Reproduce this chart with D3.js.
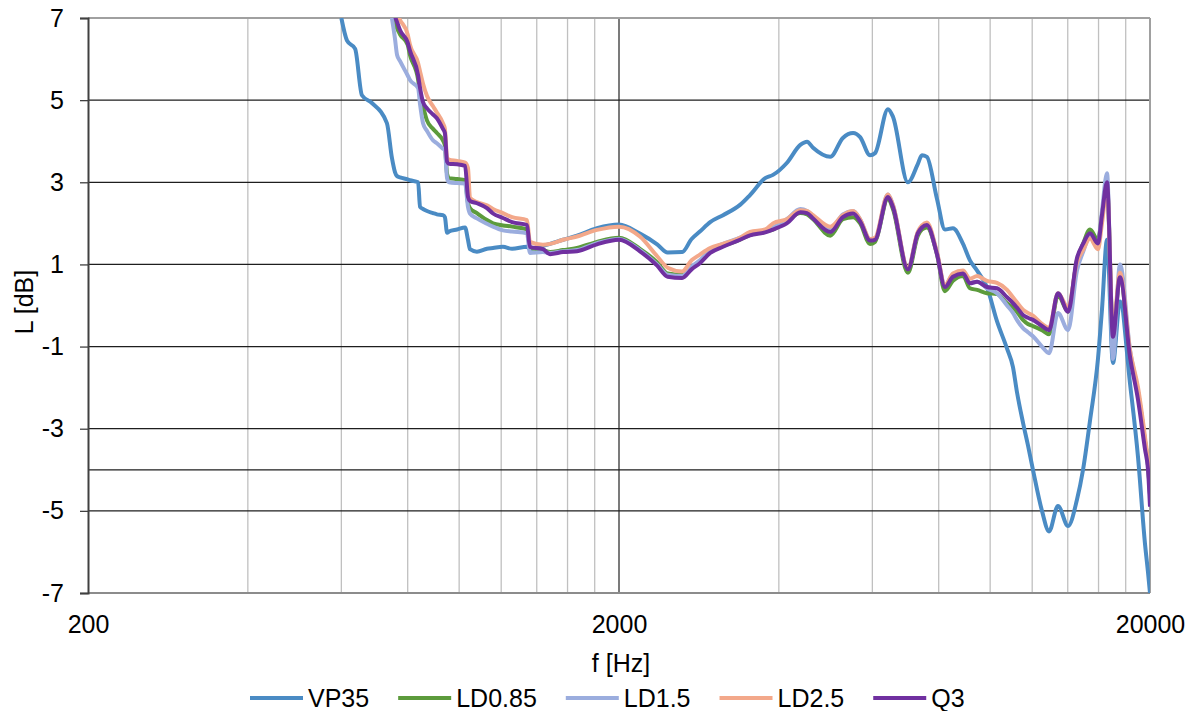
<!DOCTYPE html>
<html>
<head>
<meta charset="utf-8">
<script src="https://cdn.jsdelivr.net/npm/d3@7"></script>
<style>
  body { margin: 0; background: #fff; }
  svg { display: block; }
  text { font-family: "Liberation Sans", Arial, sans-serif; fill: #000; }
</style>
</head>
<body>
<svg id="chart" width="1203" height="711"></svg>
<script>
// Frequency points (Hz) shared by all curves
const freqHz = [
  600, 615, 637, 656, 685, 731, 747, 757, 764, 774,
  800, 808, 837, 844, 855, 870, 893, 908, 932, 940,
  949, 957, 991, 1026, 1039, 1048, 1080, 1128, 1158, 1209,
  1258, 1342, 1359, 1438, 1483, 1569, 1667, 1818, 2000, 2190,
  2360, 2470, 2630, 2740, 2840, 2970, 3140, 3380, 3530, 3770,
  3900, 4140, 4390, 4520, 4640, 5000, 5280, 5520, 5690, 5940,
  6070, 6420, 6560, 7000, 7310, 7440, 7600, 7940, 8220, 8510,
  8890, 9160, 9450, 9860, 10300, 10760, 11040, 11230, 11530, 11780,
  12040, 12520, 12910, 13420, 14020, 14570, 14960, 15420, 15960, 16240,
  16600, 17030, 17560, 18340, 18990, 19570, 19830, 20000
];

// Level (dB) of each configuration at those frequencies
const vp35 = [
  7.0, 6.45, 6.25, 5.12, 4.93, 4.44, 3.6, 3.25, 3.15, 3.12,
  3.07, 3.05, 3.0, 2.4, 2.35, 2.3, 2.25, 2.22, 2.2, 2.15,
  1.77, 1.8, 1.85, 1.9, 1.6, 1.37, 1.31, 1.38, 1.4, 1.43,
  1.38, 1.43, 1.38, 1.45, 1.5, 1.6, 1.7, 1.88, 1.97, 1.75,
  1.49, 1.29, 1.3, 1.62, 1.8, 2.03, 2.2, 2.45, 2.69, 3.1,
  3.18, 3.47, 3.91, 3.99, 3.84, 3.62, 4.08, 4.2, 4.1, 3.66,
  3.71, 4.78, 4.6, 3.0, 3.45, 3.66, 3.62, 2.6, 1.85, 1.88,
  1.5, 1.1, 0.85, 0.45, -0.38, -1.05, -1.5, -2.1, -2.85, -3.4,
  -4.0, -5.0, -5.5, -4.88, -5.37, -4.73, -4.0, -2.8, -1.3, -0.1,
  1.6, -1.4, 0.1, -1.9, -3.7, -5.8, -6.5, -7.0
];

const ld085 = [
  null, null, null, null, null, null, 7.2, 6.9, 6.75, 6.6,
  6.35, 6.1, 5.5, 5.15, 4.85, 4.5, 4.3, 4.2, 4.02, 3.9,
  3.2, 3.1, 3.08, 3.05, 2.5, 2.37, 2.25, 2.08, 2.0, 1.95,
  1.92, 1.85, 1.41, 1.35, 1.3, 1.35, 1.4, 1.55, 1.65, 1.38,
  1.05, 0.78, 0.75, 0.9, 1.08, 1.3, 1.45, 1.6, 1.72, 1.8,
  1.85, 2.05, 2.25, 2.22, 2.1, 1.7, 2.1, 2.15, 2.0, 1.5,
  1.55, 2.6, 2.35, 0.8, 1.7, 1.85, 1.9, 1.25, 0.35, 0.6,
  0.72, 0.42, 0.38, 0.3, 0.28, 0.05, -0.05, -0.15, -0.35, -0.45,
  -0.5, -0.6, -0.7, 0.25, -0.15, 1.1, 1.5, 1.85, 1.6, 2.2,
  2.9, -0.7, 0.7, -1.2, -2.1, -3.3, -3.9, -4.6
];

const ld15 = [
  null, null, null, null, null, null, 7.0, 6.5, 6.1, 5.95,
  5.6, 5.49, 5.29, 4.9, 4.44, 4.25, 4.02, 3.95, 3.82, 3.78,
  3.1, 3.0, 2.98, 2.97, 2.4, 2.24, 2.12, 1.99, 1.92, 1.83,
  1.8, 1.76, 1.28, 1.3, 1.28, 1.32, 1.35, 1.52, 1.62, 1.35,
  1.0, 0.75, 0.72, 0.95, 1.1, 1.35, 1.5, 1.65, 1.75, 1.83,
  1.9, 2.1, 2.35, 2.3, 2.18, 1.85, 2.22, 2.3, 2.1, 1.6,
  1.62, 2.7, 2.45, 0.9, 1.78, 1.92, 1.98, 1.28, 0.48, 0.75,
  0.8, 0.55, 0.58, 0.42, 0.3, 0.0, -0.18, -0.35, -0.55, -0.65,
  -0.75, -1.0, -1.16, -0.18, -0.6, 0.85, 1.3, 1.68, 1.49, 2.3,
  3.22, -1.3, 1.0, -1.08, -2.1, -3.3, -3.9, -4.6
];

const ld25 = [
  null, null, null, null, null, null, 8.0, 7.4, 7.1, 6.95,
  6.6, 6.35, 5.9, 5.7, 5.4, 5.1, 4.85, 4.7, 4.44, 4.3,
  3.6, 3.55, 3.52, 3.48, 3.35, 2.62, 2.52, 2.44, 2.35, 2.25,
  2.15, 2.08, 1.55, 1.48, 1.5, 1.6, 1.68, 1.84, 1.92, 1.68,
  1.2, 0.92, 0.83, 1.1, 1.24, 1.4, 1.5, 1.65, 1.79, 1.85,
  2.0, 2.1, 2.32, 2.3, 2.2, 1.92, 2.2, 2.3, 2.1, 1.62,
  1.65, 2.7, 2.45, 0.92, 1.8, 1.95, 2.02, 1.3, 0.5, 0.78,
  0.85, 0.65, 0.72, 0.6, 0.55, 0.38, 0.2, 0.08, -0.1, -0.18,
  -0.25, -0.45, -0.55, 0.3, -0.05, 1.05, 1.35, 1.63, 1.37, 2.0,
  2.85, -0.6, 0.8, -1.1, -2.0, -3.2, -3.8, -4.45
];

const q3 = [
  null, null, null, null, null, null, 7.5, 7.05, 6.9, 6.7,
  6.4, 6.2, 5.6, 5.3, 4.95, 4.8, 4.65, 4.56, 4.3, 4.2,
  3.5, 3.45, 3.44, 3.4, 2.65, 2.55, 2.49, 2.37, 2.24, 2.13,
  2.03, 1.96, 1.43, 1.37, 1.25, 1.3, 1.32, 1.49, 1.6, 1.32,
  0.97, 0.7, 0.67, 0.88, 1.03, 1.28, 1.43, 1.6, 1.71, 1.78,
  1.85, 2.0, 2.27, 2.25, 2.12, 1.79, 2.15, 2.24, 2.05, 1.58,
  1.6, 2.64, 2.4, 0.88, 1.76, 1.9, 1.96, 1.25, 0.45, 0.7,
  0.78, 0.54, 0.58, 0.45, 0.42, 0.2, 0.06, -0.05, -0.23, -0.3,
  -0.35, -0.5, -0.6, 0.3, -0.15, 1.15, 1.5, 1.76, 1.51, 2.2,
  3.0, -0.76, 0.69, -1.25, -2.3, -3.5, -4.0, -4.9
];

const seriesNames = ["VP35", "LD0.85", "LD1.5", "LD2.5", "Q3"];
const seriesValues = [vp35, ld085, ld15, ld25, q3];
const seriesColors = ["#4a8bc4", "#5c9b3c", "#9badde", "#f3a88a", "#7030a0"];

const yTicks = [7, 5, 3, 1, -1, -3, -5, -7];
const yExtraGrid = [-4];
const xTickLabels = [200, 2000, 20000];
const xMinorGrid = [400, 600, 800, 1000, 1200, 1400, 1600, 1800,
                    4000, 6000, 8000, 10000, 12000, 14000, 16000, 18000];

const svg = d3.select("#chart");
const plotL = 88, plotR = 1150, plotT = 18, plotB = 593;

const x = d3.scaleLog().domain([200, 20000]).range([plotL, plotR]);
const y = d3.scaleLinear().domain([-7, 7]).range([plotB, plotT]);

// plain hyphen for negative numbers
const plainNum = d => String(d);

// minor vertical grid
svg.append("g").selectAll("line").data(xMinorGrid).join("line")
  .attr("x1", d => x(d)).attr("x2", d => x(d))
  .attr("y1", plotT).attr("y2", plotB)
  .attr("stroke", "#c0c0c0").attr("stroke-width", 1.3);

// major vertical line at 2000 Hz
svg.append("line")
  .attr("x1", x(2000)).attr("x2", x(2000)).attr("y1", plotT).attr("y2", plotB)
  .attr("stroke", "#5a5a5a").attr("stroke-width", 1.6);

// horizontal grid
const hGrid = yTicks.filter(v => v !== 7 && v !== -7).concat(yExtraGrid);
svg.append("g").selectAll("line").data(hGrid).join("line")
  .attr("x1", plotL).attr("x2", plotR)
  .attr("y1", d => y(d)).attr("y2", d => y(d))
  .attr("stroke", "#1e1e1e").attr("stroke-width", 1.3);

// frame: top, right, bottom
svg.append("line").attr("x1", plotL).attr("x2", plotR).attr("y1", plotT).attr("y2", plotT)
  .attr("stroke", "#a0a0a0").attr("stroke-width", 2);
svg.append("line").attr("x1", plotR).attr("x2", plotR).attr("y1", plotT).attr("y2", plotB)
  .attr("stroke", "#a0a0a0").attr("stroke-width", 2);
svg.append("line").attr("x1", plotL).attr("x2", plotR).attr("y1", plotB).attr("y2", plotB)
  .attr("stroke", "#8c8c8c").attr("stroke-width", 2);

// curves
svg.append("defs").append("clipPath").attr("id", "plot-clip")
  .append("rect").attr("x", plotL).attr("y", plotT)
  .attr("width", plotR - plotL).attr("height", plotB - plotT);

const line = d3.line()
  .defined(d => d[1] !== null)
  .curve(d3.curveMonotoneX)
  .x(d => x(d[0]))
  .y(d => y(d[1]));

const curves = svg.append("g").attr("clip-path", "url(#plot-clip)");
seriesValues.forEach((vals, i) => {
  curves.append("path")
    .datum(freqHz.map((f, k) => [f, vals[k]]))
    .attr("fill", "none")
    .attr("stroke", seriesColors[i])
    .attr("stroke-width", 4)
    .attr("stroke-linejoin", "round")
    .attr("d", line);
});

// y axis
const yAxis = svg.append("g")
  .attr("transform", `translate(${plotL},0)`)
  .call(d3.axisLeft(y).tickValues(yTicks).tickSize(8).tickPadding(16).tickFormat(plainNum));
yAxis.select(".domain").attr("stroke", "#404040").attr("stroke-width", 2);
yAxis.selectAll(".tick line").attr("stroke", "#404040").attr("stroke-width", 1.3);
yAxis.selectAll(".tick text").attr("font-size", 25).attr("fill", "#000")
  .attr("font-family", "'Liberation Sans', Arial, sans-serif");

// x axis labels
const xAxis = svg.append("g")
  .attr("transform", `translate(0,${plotB})`)
  .call(d3.axisBottom(x).tickValues(xTickLabels).tickSize(0).tickPadding(22).tickFormat(plainNum));
xAxis.select(".domain").remove();
xAxis.selectAll(".tick text").attr("font-size", 25).attr("fill", "#000")
  .attr("font-family", "'Liberation Sans', Arial, sans-serif");

// axis titles
svg.append("text")
  .attr("x", 621).attr("y", 672)
  .attr("text-anchor", "middle").attr("font-size", 25)
  .text("f [Hz]");
svg.append("text")
  .attr("transform", "translate(33,302) rotate(-90)")
  .attr("text-anchor", "middle").attr("font-size", 25)
  .text("L [dB]");

// legend
const legend = svg.append("g");
let lx = 250;
const ly = 698;
seriesNames.forEach((name, i) => {
  legend.append("line")
    .attr("x1", lx).attr("x2", lx + 53).attr("y1", ly).attr("y2", ly)
    .attr("stroke", seriesColors[i]).attr("stroke-width", 4);
  const t = legend.append("text")
    .attr("x", lx + 58).attr("y", ly + 9)
    .attr("font-size", 25)
    .text(name);
  lx += 58 + t.node().getComputedTextLength() + 29;
});
</script>
</body>
</html>
